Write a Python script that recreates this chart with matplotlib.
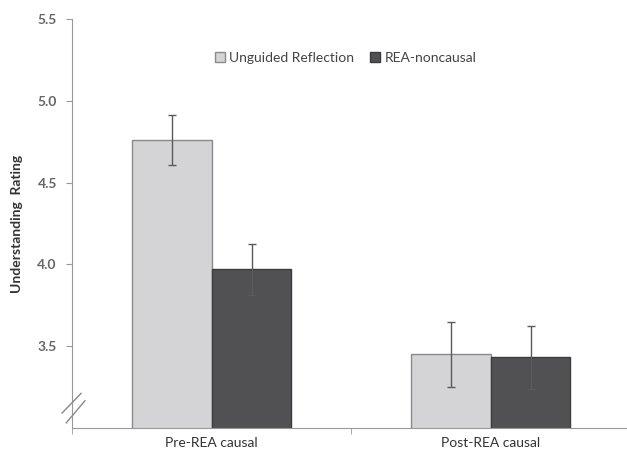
import numpy as np
import matplotlib
matplotlib.use('Agg')
from matplotlib import pyplot as plt

groups = ['Pre-REA causal', 'Post-REA causal']
series = ['Unguided Reflection', 'REA-noncausal']
means = [[4.76, 3.45],
         [3.97, 3.43]]
errs = [[0.155, 0.20],
        [0.155, 0.195]]
colors = ['#d4d4d6', '#515153']
edges = ['#8a8a8a', '#3c3c3c']

plt.rcParams['font.family'] = ['Lato', 'DejaVu Sans']

fig = plt.figure(figsize=(6.27, 4.57), dpi=100)
ax = fig.add_axes([0.115, 0.064, 0.89, 0.894])

x = np.arange(len(groups))
w = 0.286
for i in range(len(series)):
    ax.bar(x + (i - 0.5) * w, means[i], w, bottom=0, color=colors[i],
           edgecolor=edges[i], linewidth=1, label=series[i], zorder=2)
    ax.errorbar(x + (i - 0.5) * w, means[i], yerr=errs[i], fmt='none',
                ecolor='#5a5a5a', elinewidth=1, capsize=3, capthick=1, zorder=3)

ax.set_ylim(3.0, 5.5)
ax.set_xlim(-0.5, 1.5)
ax.set_yticks([3.5, 4.0, 4.5, 5.0, 5.5])
ax.set_yticklabels(['3.5', '4.0', '4.5', '5.0', '5.5'])
ax.set_xticks(x)
ax.set_xticklabels(groups)
ax.set_xticks([-0.5, 0.5], minor=True)
ax.tick_params(axis='x', which='major', length=0, pad=7, labelsize=10, labelcolor='#333333')
ax.tick_params(axis='x', which='minor', length=4, color='#999999', direction='out')
ax.tick_params(axis='y', length=4, color='#999999', direction='out', labelsize=10,
               labelcolor='#666666', pad=7)
for lbl in ax.get_yticklabels():
    lbl.set_fontweight('bold')

for s in ['top', 'right']:
    ax.spines[s].set_visible(False)
ax.spines['left'].set_color('#999999')
ax.spines['bottom'].set_color('#999999')

ax.set_ylabel('Understanding  Rating', fontsize=10, fontweight='bold', color='#333333', labelpad=10)

# axis break marks
ax.plot([-0.536, -0.468], [3.09, 3.21], color='#888888', lw=1, clip_on=False, zorder=4)
ax.plot([-0.521, -0.454], [3.03, 3.165], color='#888888', lw=1, clip_on=False, zorder=4)

leg = ax.legend(loc='upper center', bbox_to_anchor=(0.49, 0.95), ncol=2, frameon=False,
                handlelength=0.7, handleheight=0.7, handletextpad=0.3, columnspacing=1.2,
                fontsize=10)
for t in leg.get_texts():
    t.set_color('#444444')

fig.savefig('out.png', dpi=100)
